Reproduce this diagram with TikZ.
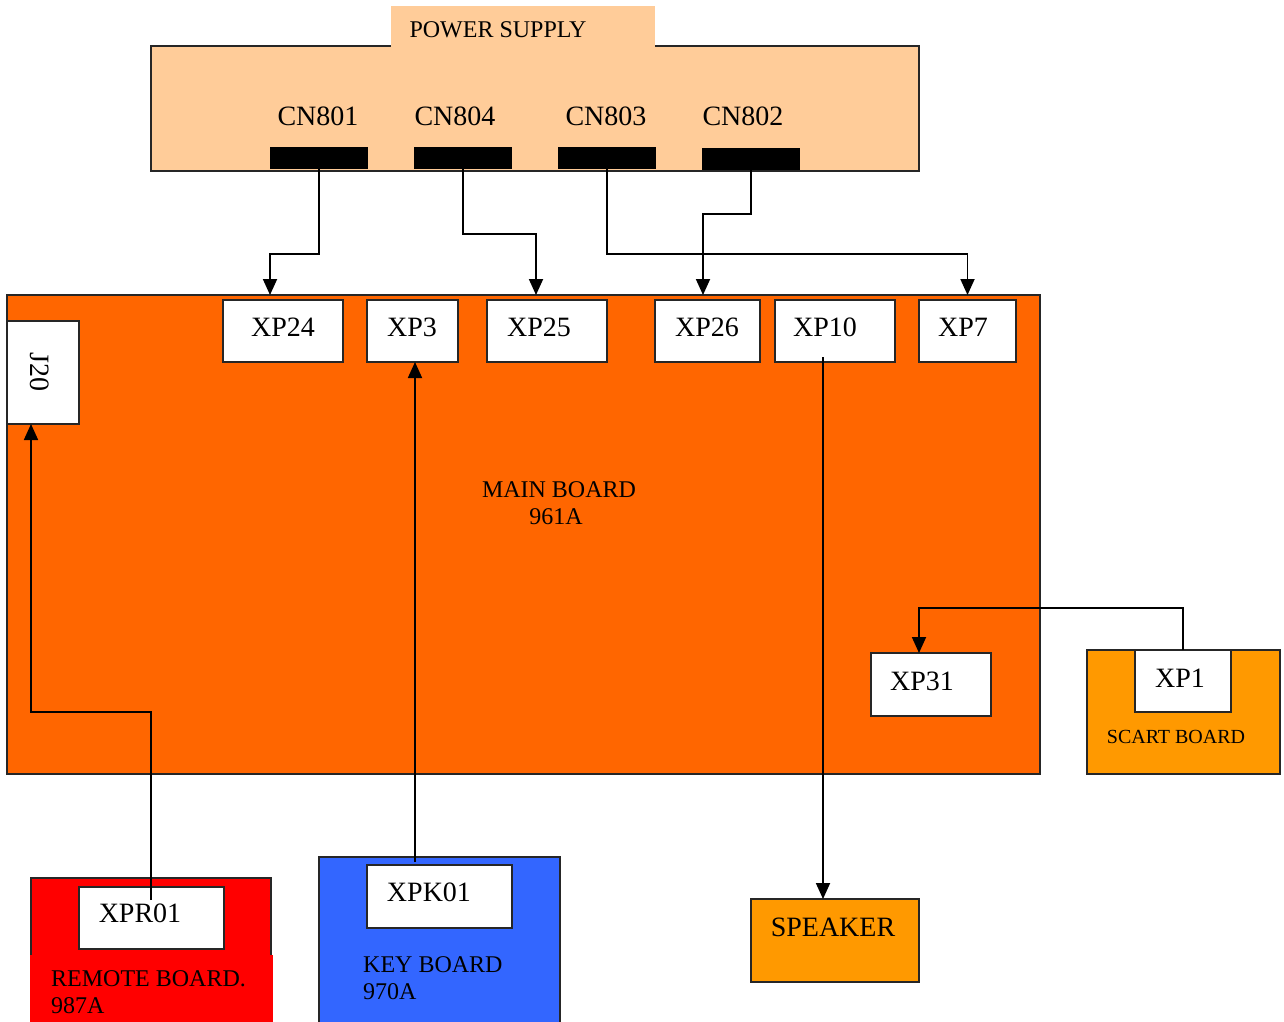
\documentclass[tikz,border=0pt]{standalone}
\usepackage{fontspec}
\setmainfont{Liberation Serif}
\usetikzlibrary{arrows.meta}
\definecolor{psu}{HTML}{FFCC99}
\definecolor{mainc}{HTML}{FF6600}
\definecolor{orng}{HTML}{FF9900}
\definecolor{keyc}{HTML}{3366FF}
\definecolor{remc}{HTML}{FF0000}
\tikzset{
  board/.style={draw=black!85, line width=2pt, inner sep=0pt, outer sep=0pt},
  conbox/.style={draw=black!85, fill=white, line width=2pt, inner sep=0pt, outer sep=0pt},
  pin/.style={fill=black, inner sep=0pt, outer sep=0pt, minimum width=98pt, minimum height=22pt},
  lbl/.style={inner sep=0pt, font=\fontsize{28}{32}\selectfont},
  mlbl/.style={inner sep=0pt, font=\fontsize{24}{28}\selectfont},
  wire/.style={line width=1.8pt},
  arr/.style={wire, -{Triangle[width=14pt,length=16pt]}},
}
\begin{document}
\begin{tikzpicture}[x=1pt,y=-1pt]
\useasboundingbox (0,0) rectangle (1284,1021);
% main board
\node[board, fill=mainc, minimum width=1033pt, minimum height=479pt] (main) at (523.5,534.5) {};
\node[conbox, minimum width=72pt, minimum height=103pt] (j20) at (43,372.5) {};
\node[lbl, rotate=-90] (j20t) at (40,372) {J20};
\node[conbox, minimum width=120pt, minimum height=62pt] (xp24) at (283,331) {};
\node[conbox, minimum width=91pt, minimum height=62pt] (xp3) at (412.5,331) {};
\node[conbox, minimum width=120pt, minimum height=62pt] (xp25) at (547,331) {};
\node[conbox, minimum width=105pt, minimum height=62pt] (xp26) at (707.5,331) {};
\node[conbox, minimum width=120pt, minimum height=62pt] (xp10) at (835,331) {};
\node[conbox, minimum width=97pt, minimum height=62pt] (xp7) at (967.5,331) {};
\node[lbl] (xp24t) at (283,327) {XP24};
\node[lbl] (xp3t) at (412,327) {XP3};
\node[lbl] (xp25t) at (539,327) {XP25};
\node[lbl] (xp26t) at (707,327) {XP26};
\node[lbl] (xp10t) at (825,327) {XP10};
\node[lbl] (xp7t) at (963,327) {XP7};
\node[mlbl] (mainA) at (559,490) {MAIN BOARD};
\node[mlbl] (mainB) at (556,517) {961A};
\node[conbox, minimum width=120pt, minimum height=63pt] (xp31) at (931,684.5) {};
\node[lbl] (xp31t) at (922,681) {XP31};
% scart board
\node[board, fill=orng, minimum width=193pt, minimum height=124pt] (scart) at (1183.5,712) {};
\node[conbox, minimum width=96pt, minimum height=62pt] (xp1) at (1183,681) {};
\node[lbl] (xp1t) at (1180,678) {XP1};
\node[inner sep=0pt, font=\fontsize{20}{24}\selectfont] (scartt) at (1176,737) {SCART BOARD};
% power supply
\node[board, fill=psu, minimum width=768pt, minimum height=125pt] (psu) at (535,108.5) {};
\fill[psu] (391,6) rectangle (655,47.8);
\node[mlbl] (psut) at (498,30) {POWER SUPPLY};
\node[pin] (cn801) at (319,158) {};
\node[pin] (cn804) at (463,158) {};
\node[pin] (cn803) at (607,158) {};
\node[pin] (cn802) at (751,159) {};
\node[lbl] (cn801t) at (318,116) {CN801};
\node[lbl] (cn804t) at (455,116) {CN804};
\node[lbl] (cn803t) at (606,116) {CN803};
\node[lbl] (cn802t) at (743,116) {CN802};
% speaker
\node[board, fill=orng, minimum width=168pt, minimum height=83pt] (spk) at (835,940.5) {};
\node[inner sep=0pt, font=\fontsize{28}{32}\selectfont] (spkt) at (833,927) {SPEAKER};
% key board
\node[board, fill=keyc, minimum width=241pt, minimum height=173pt] (key) at (439.5,943.5) {};
\node[conbox, minimum width=145pt, minimum height=63pt] (xpk01) at (439.5,896.5) {};
\node[lbl] (xpk01t) at (429,892) {XPK01};
\node[mlbl, anchor=west] (keyA) at (363,965) {KEY BOARD};
\node[mlbl, anchor=west] (keyB) at (363,992) {970A};
% remote board
\node[board, fill=remc, minimum width=240pt, minimum height=152pt] (rem) at (151,954) {};
\fill[remc] (29.5,955) rectangle (272.5,1030);
\node[conbox, minimum width=145pt, minimum height=62pt] (xpr01) at (151.5,918) {};
\node[lbl] (xpr01t) at (140,913) {XPR01};
\node[mlbl, anchor=west] (remA) at (51,979) {REMOTE BOARD.};
\node[mlbl, anchor=west] (remB) at (51,1006) {987A};
% connectors
\draw[arr] (cn801.south) -- ++(0,85) -| ([xshift=-13pt]xp24.north |- main.north);
\draw[arr] (cn804.south) -- ++(0,65) -| ([xshift=-11pt]xp25.north |- main.north);
\draw[arr] (cn803.south) -- ++(0,85) -| (xp7.north |- main.north);
\draw[arr] (cn802.south) -- ++(0,44) -| ([xshift=-4.5pt]xp26.north |- main.north);
\draw[arr] ([xshift=-12pt,yshift=5pt]xp10.south) -- ([xshift=-12pt]spk.north);
\draw[arr] ([xshift=-24.5pt,yshift=3pt]xpk01.north) -- ([xshift=2.5pt]xp3.south);
\draw[arr] ([xshift=-0.5pt,yshift=18pt]xpr01.center) -- ++(0,-188) -| ([xshift=-12pt]j20.south);
\draw[arr] (xp1.north) -- ++(0,-42) -| ([xshift=-12pt]xp31.north);
\end{tikzpicture}
\end{document}
